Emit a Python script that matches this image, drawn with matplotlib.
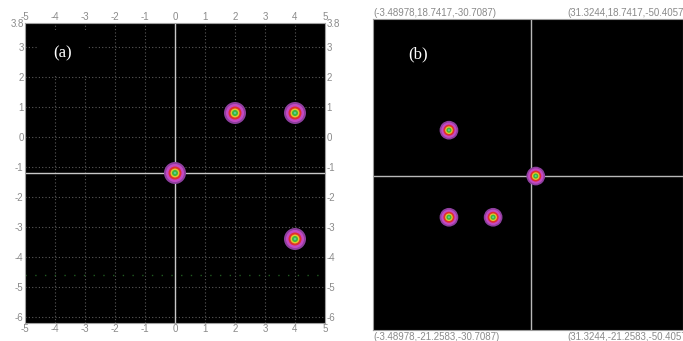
import matplotlib
matplotlib.use("Agg")
import matplotlib.pyplot as plt
import numpy as np

# panel (a): focal spots in the scale plane
a_xticks = [-5, -4, -3, -2, -1, 0, 1, 2, 3, 4, 5]
a_yticks = [3.8, 3, 2, 1, 0, -1, -2, -3, -4, -5, -6]
a_yticklabels = ["3.8", "3", "2", "1", "0", "-1", "-2", "-3", "-4", "-5", "-6"]
a_xlim = (-5, 5)
a_ylim = (-6.2, 3.8)
a_cross = (0, -1.2)
a_spot_x = [0, 2, 4, 4]
a_spot_y = [-1.2, 0.8, 0.8, -3.4]
a_faint_y = -4.6

# panel (b): spots in the simulated image plane
b_xlim = (-20.4, 19.6)
b_ylim = (-19.8, 20.2)
b_spot_x = [-10.6, -10.6, -4.9, 0.6]
b_spot_y = [5.9, -5.3, -5.3, 0.0]
b_corner_top = ["(-3.48978,18.7417,-30.7087)", "(31.3244,18.7417,-50.4057"]
b_corner_bot = ["(-3.48978,-21.2583,-30.7087)", "(31.3244,-21.2583,-50.4057"]

# rings of one spot, outside in: (colour, diameter in px)
RINGS = [("#8e3f9e", 22), ("#c448c4", 18), ("#e0302c", 13),
         ("#e2c82a", 9), ("#3cb43c", 6), ("#5ccf9a", 2.5)]
GRAY = "#8a8a8a"

plt.rcParams["font.family"] = ["Liberation Sans", "DejaVu Sans"]

fig = plt.figure(figsize=(6.83, 3.41), dpi=100)
fig.patch.set_facecolor("white")


def spots(ax, xs, ys, scale=1.0):
    for c, d in RINGS:
        s = (d * scale * 0.72) ** 2
        ax.scatter(xs, ys, s=s, color=c, edgecolors="none", zorder=4)


# ---- (a)
ax = fig.add_axes([25 / 683, 18 / 341, 300 / 683, 300 / 341])
ax.set_facecolor("black")
ax.set_xlim(*a_xlim)
ax.set_ylim(*a_ylim)
ax.set_xticks(a_xticks)
ax.set_xticklabels([str(t) for t in a_xticks])
ax.set_yticks(a_yticks)
ax.set_yticklabels(a_yticklabels)
ax.tick_params(length=0, pad=1, labelsize=7, labelcolor=GRAY,
               top=True, right=True, labeltop=True, labelright=True)
ax.grid(True, color="#5a5a5a", ls=(0, (1, 2)), lw=0.8)
ax.set_axisbelow(True)
for sp in ax.spines.values():
    sp.set_color("#a0a0a0")
    sp.set_linewidth(0.8)
ax.axvline(a_cross[0], color="#c8c8c8", lw=1, zorder=2)
ax.axhline(a_cross[1], color="#c8c8c8", lw=1, zorder=2)
ax.plot(a_xlim, [a_faint_y, a_faint_y], color="#1f5a1f", lw=1,
        ls=(0, (1, 6)), zorder=1)
spots(ax, a_spot_x, a_spot_y)
ax.text(-3.75, 2.8, "(a)", color="white", fontsize=12, ha="center",
        va="center", family=["Liberation Serif", "DejaVu Serif"], zorder=5,
        bbox=dict(boxstyle="square,pad=0.9", fc="black", ec="none"))

# ---- (b)
bx = fig.add_axes([373 / 683, 11 / 341, 310 / 683, 311 / 341])
bx.set_facecolor("black")
bx.set_xlim(*b_xlim)
bx.set_ylim(*b_ylim)
bx.set_xticks([])
bx.set_yticks([])
for sp in bx.spines.values():
    sp.set_color("#9a9a9a")
    sp.set_linewidth(0.8)
bx.axvline(0, color="#b8b8b8", lw=1, zorder=2)
bx.axhline(0, color="#b8b8b8", lw=1, zorder=2)
spots(bx, b_spot_x, b_spot_y, scale=0.85)
bx.text(-14.6, 15.7, "(b)", color="white", fontsize=12, ha="center",
        va="center", family=["Liberation Serif", "DejaVu Serif"], zorder=5)
for xf, t in zip([0.0, 0.626], b_corner_top):
    bx.text(xf, 1.004, t, transform=bx.transAxes, fontsize=7, color=GRAY,
            ha="left", va="bottom")
for xf, t in zip([0.0, 0.626], b_corner_bot):
    bx.text(xf, -0.006, t, transform=bx.transAxes, fontsize=7, color=GRAY,
            ha="left", va="top")

fig.savefig("out.png", dpi=100)
